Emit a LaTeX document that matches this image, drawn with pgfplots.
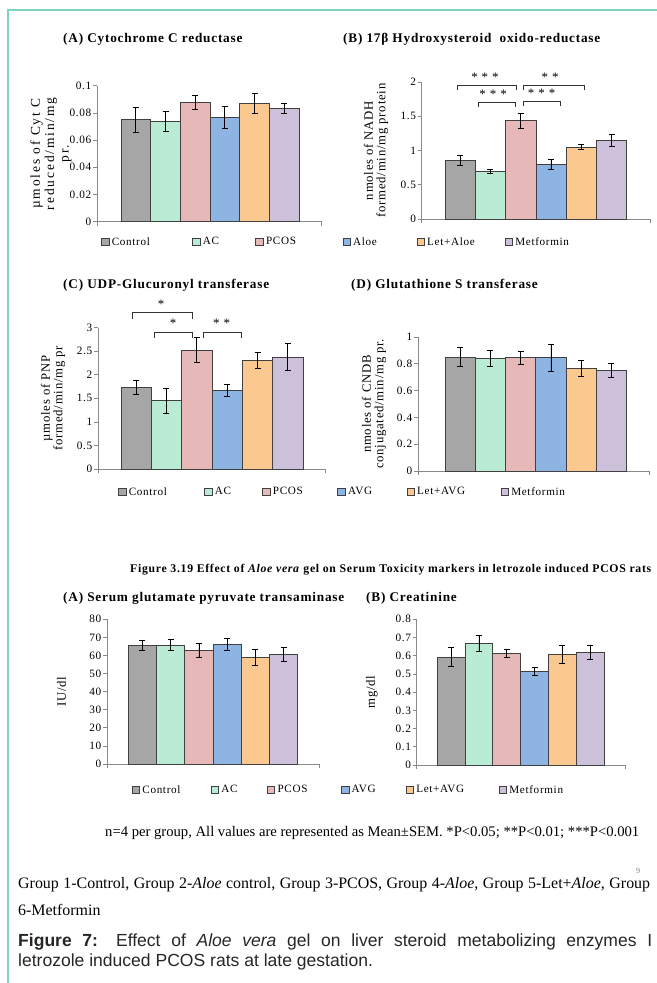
\documentclass[border=0pt]{standalone}
\usepackage{fontspec}
\setmainfont{Liberation Serif}
\newfontfamily\cf[LetterSpace=6]{Liberation Serif}
\newfontfamily\cfw[LetterSpace=14]{Liberation Serif}
\newfontfamily\capf{Liberation Sans}
\usepackage{pgfplots}
\pgfplotsset{compat=1.18}
\usepackage{graphicx}
\definecolor{cCtrl}{HTML}{A6A6A6}
\definecolor{cAC}{HTML}{B9EBD5}
\definecolor{cPCOS}{HTML}{E6B9B8}
\definecolor{cAloe}{HTML}{8DB4E2}
\definecolor{cLet}{HTML}{FBC88F}
\definecolor{cMet}{HTML}{CCC0DA}
\definecolor{axgray}{HTML}{898989}
\definecolor{frame}{HTML}{7FD3C3}
\newcommand{\B}[4]{\addplot[mybar, fill=#1] coordinates {(#2,#3) +- (0,#4)};}
\pgfplotsset{
  panel/.style={scale only axis, anchor=south west,
    axis x line=bottom, axis y line=left,
    axis line style={-,draw=axgray,line width=0.7bp},
    tick style={draw=axgray,line width=0.7bp},
    tick align=outside, major tick length=4bp,
    xticklabels={}, ymin=0, clip=false,
    /pgf/number format/assume math mode=true,
    yticklabel style={font=\cf\fontsize{11.3}{12}\selectfont, inner sep=1.5bp},
    ylabel style={font=\cf\fontsize{12.8}{12.5}\selectfont, align=center, anchor=center}},
  mybar/.style={ybar, bar width=1, bar shift=0pt, draw=black!75, line width=0.7bp,
    legend image code/.code={\draw[##1,draw=black!75,line width=0.6bp] (0bp,-3.7bp) rectangle (7.5bp,3.7bp);},
    error bars/y dir=both, error bars/y explicit,
    error bars/error bar style={black, line width=0.75bp},
    error bars/error mark options={rotate=90, mark size=3bp, black, line width=0.75bp}},
  legrow/.style={legend columns=6, legend cell align=left,
    legend style={draw=none, fill=none, inner sep=0pt, anchor=west,
      font=\cf\fontsize{11.2}{12}\selectfont, nodes={inner sep=0pt},
      /tikz/every even column/.append style={column sep=0pt}}},
}
\tikzset{sig/.style={black!80, line width=0.6bp}, star/.style={font=\cf\fontsize{13}{13}\selectfont, anchor=base, inner sep=0pt},
  ttl/.style={anchor=west, inner sep=0pt, font=\cf\bfseries\fontsize{13.3}{15}\selectfont}}
\begin{document}
\begin{tikzpicture}
\path[use as bounding box] (0,0) rectangle (657bp,983bp);
\draw[frame, line width=1.5bp] (8bp,0bp) -- (8bp,973bp) -- (657bp,973bp);

% titles
\node[ttl] at (63bp,944bp) {(A) Cytochrome C reductase};
\node[ttl] at (343bp,944bp) {(B) 17β Hydroxysteroid\ \ oxido-reductase};
\node[ttl] at (63bp,698bp) {(C) UDP-Glucuronyl transferase};
\node[ttl] at (351bp,698bp) {(D) Glutathione S transferase};
\node[ttl, font=\cf\bfseries\fontsize{11.8}{13}\selectfont] at (130bp,413bp) {Figure 3.19 Effect of \textit{Aloe vera} gel on Serum Toxicity markers in letrozole induced PCOS rats};
\node[ttl] at (63bp,385bp) {(A) Serum glutamate pyruvate transaminase};
\node[ttl] at (366bp,385bp) {(B) Creatinine};

% Panel A
\begin{axis}[panel, at={(97bp,761.3bp)}, width=224.7bp, height=136bp,
  xmin=-1.309, xmax=6.265, xtick={-1.309,6.265},
  ymax=0.1, ytick={0,0.02,0.04,0.06,0.08,0.1}, yticklabels={0,0.02,0.04,0.06,0.08,0.1},
  ylabel={µmoles of Cyt C\\reduced/min/mg\\pr.},
  ylabel style={at={(axis description cs:-0.205,0.5)}, font=\cfw\fontsize{13.5}{14.5}\selectfont},
  legrow, legend style={at={(axis description cs:0.018,-0.149)}}]
\B{cCtrl}{0}{0.075}{0.009}
\B{cAC}{1}{0.0735}{0.0074}
\B{cPCOS}{2}{0.0877}{0.005}
\B{cAloe}{3}{0.0767}{0.0082}
\B{cLet}{4}{0.087}{0.0076}
\B{cMet}{5}{0.0831}{0.0038}
\legend{{\makebox[83bp][l]{\hspace{2.5bp}Control}},{\makebox[55bp][l]{\hspace{2.5bp}AC}},{\makebox[79bp][l]{\hspace{2.5bp}PCOS}},{\makebox[66bp][l]{\hspace{2.5bp}Aloe}},{\makebox[80bp][l]{\hspace{2.5bp}Let+Aloe}},{\hspace{2.5bp}Metformin}}
\end{axis}

% Panel B
\begin{axis}[panel, at={(421.7bp,764bp)}, width=228.3bp, height=137bp,
  xmin=-1.27, xmax=6.27, xtick={-1.27,6.27},
  ymax=2, ytick={0,0.5,1,1.5,2}, yticklabels={0,0.5,1,1.5,2},
  ylabel={nmoles of NADH\\formed/min/mg protein},
  ylabel style={at={(axis description cs:-0.2,0.5)}}]
\B{cCtrl}{0}{0.856}{0.068}
\B{cAC}{1}{0.691}{0.03}
\B{cPCOS}{2}{1.435}{0.107}
\B{cAloe}{3}{0.798}{0.07}
\B{cLet}{4}{1.051}{0.04}
\B{cMet}{5}{1.144}{0.09}
\draw[sig] (axis cs:-0.1,1.883) -- (axis cs:-0.1,1.956) -- (axis cs:1.87,1.956) -- (axis cs:1.87,1.883);
\draw[sig] (axis cs:0.6,1.63) -- (axis cs:0.6,1.703) -- (axis cs:1.83,1.703) -- (axis cs:1.83,1.63);
\draw[sig] (axis cs:2.1,1.883) -- (axis cs:2.1,1.956) -- (axis cs:4.09,1.956) -- (axis cs:4.09,1.883);
\draw[sig] (axis cs:2.1,1.647) -- (axis cs:2.1,1.72) -- (axis cs:3.32,1.72) -- (axis cs:3.32,1.647);
\node[star] at (axis cs:0.82,1.956) [yshift=4bp] {* * *};
\node[star] at (axis cs:1.09,1.703) [yshift=4bp] {* * *};
\node[star] at (axis cs:2.97,1.956) [yshift=4bp] {* *};
\node[star] at (axis cs:2.69,1.72) [yshift=4bp] {* * *};
\end{axis}

% Panel C
\begin{axis}[panel, at={(98bp,514bp)}, width=227bp, height=141.3bp,
  xmin=-1.258, xmax=6.225, xtick={-1.258,6.225},
  ymax=3, ytick={0,0.5,1,1.5,2,2.5,3}, yticklabels={0,0.5,1,1.5,2,2.5,3},
  ylabel={µmoles of PNP\\formed/min/mg pr},
  ylabel style={at={(axis description cs:-0.198,0.5)}},
  legrow, legend style={at={(axis description cs:0.088,-0.163)}}]
\B{cCtrl}{0}{1.727}{0.15}
\B{cAC}{1}{1.451}{0.265}
\B{cPCOS}{2}{2.519}{0.265}
\B{cAloe}{3}{1.663}{0.13}
\B{cLet}{4}{2.3}{0.17}
\B{cMet}{5}{2.378}{0.28}
\draw[sig] (axis cs:-0.114,3.19) -- (axis cs:-0.114,3.32) -- (axis cs:1.85,3.32) -- (axis cs:1.85,3.19);
\draw[sig] (axis cs:0.6,2.79) -- (axis cs:0.6,2.91) -- (axis cs:1.85,2.91) -- (axis cs:1.85,2.79);
\draw[sig] (axis cs:2.21,2.79) -- (axis cs:2.21,2.91) -- (axis cs:3.48,2.91) -- (axis cs:3.48,2.79);
\node[star] at (axis cs:0.82,3.32) [yshift=4bp] {*};
\node[star] at (axis cs:1.22,2.91) [yshift=4bp] {*};
\node[star] at (axis cs:2.82,2.91) [yshift=4bp] {* *};
\legend{{\makebox[78bp][l]{\hspace{2.5bp}Control}},{\makebox[50bp][l]{\hspace{2.5bp}AC}},{\makebox[67bp][l]{\hspace{2.5bp}PCOS}},{\makebox[61bp][l]{\hspace{2.5bp}AVG}},{\makebox[86bp][l]{\hspace{2.5bp}Let+AVG}},{\hspace{2.5bp}Metformin}}
\end{axis}

% Panel D
\begin{axis}[panel, at={(418bp,512bp)}, width=231bp, height=134bp,
  xmin=-1.39, xmax=6.24, xtick={-1.39,6.24},
  ymax=1, ytick={0,0.2,0.4,0.6,0.8,1}, yticklabels={0,0.2,0.4,0.6,0.8,1},
  ylabel={nmoles of CNDB\\conjugated/min/mg pr.},
  ylabel style={at={(axis description cs:-0.19,0.5)}}]
\B{cCtrl}{0}{0.851}{0.07}
\B{cAC}{1}{0.841}{0.06}
\B{cPCOS}{2}{0.846}{0.048}
\B{cAloe}{3}{0.846}{0.1}
\B{cLet}{4}{0.769}{0.06}
\B{cMet}{5}{0.751}{0.05}
\end{axis}

% Panel E
\begin{axis}[panel, at={(107bp,219bp)}, width=212bp, height=144.7bp,
  xmin=-1.255, xmax=6.255, xtick={-1.255,6.255},
  ymax=80, ytick={0,10,20,30,40,50,60,70,80}, yticklabels={0,10,20,30,40,50,60,70,80},
  ylabel={IU/dl},
  ylabel style={at={(axis description cs:-0.214,0.5)}},
  legrow, legend style={at={(axis description cs:0.116,-0.18)}}]
\B{cCtrl}{0}{65.8}{2.8}
\B{cAC}{1}{65.8}{3.0}
\B{cPCOS}{2}{63}{3.8}
\B{cAloe}{3}{66.2}{3.5}
\B{cLet}{4}{59}{4.2}
\B{cMet}{5}{60.6}{3.9}
\legend{{\makebox[70.8bp][l]{\hspace{2.5bp}Control}},{\makebox[48.2bp][l]{\hspace{2.5bp}AC}},{\makebox[66bp][l]{\hspace{2.5bp}PCOS}},{\makebox[56.5bp][l]{\hspace{2.5bp}AVG}},{\makebox[85bp][l]{\hspace{2.5bp}Let+AVG}},{\hspace{2.5bp}Metformin}}
\end{axis}

% Panel F
\begin{axis}[panel, at={(416.7bp,218bp)}, width=208.3bp, height=145.7bp,
  xmin=-1.24, xmax=6.256, xtick={-1.24,6.256},
  ymax=0.8, ytick={0,0.1,0.2,0.3,0.4,0.5,0.6,0.7,0.8}, yticklabels={0,0.1,0.2,0.3,0.4,0.5,0.6,0.7,0.8},
  ylabel={mg/dl},
  ylabel style={at={(axis description cs:-0.216,0.5)}}]
\B{cCtrl}{0}{0.592}{0.053}
\B{cAC}{1}{0.668}{0.044}
\B{cPCOS}{2}{0.612}{0.021}
\B{cAloe}{3}{0.515}{0.021}
\B{cLet}{4}{0.606}{0.05}
\B{cMet}{5}{0.619}{0.04}
\end{axis}

% footer
\node[anchor=west, inner sep=0pt, font=\fontsize{14.7}{16}\selectfont] at (105bp,150bp) {n=4 per group, All values are represented as Mean±SEM. *P<0.05; **P<0.01; ***P<0.001};
\node[anchor=west, inner sep=0pt, font=\fontsize{8}{8}\selectfont, text=gray] at (636bp,112bp) {9};
\node[anchor=west, inner sep=0pt, font=\fontsize{16}{18}\selectfont] at (18bp,98bp) {\makebox[632bp][s]{Group 1-Control, Group 2-\textit{Aloe} control, Group 3-PCOS, Group 4-\textit{Aloe}, Group 5-Let+\textit{Aloe}, Group}};
\node[anchor=west, inner sep=0pt, font=\fontsize{16}{18}\selectfont] at (18bp,73bp) {6-Metformin};
\node[anchor=west, inner sep=0pt, font=\capf\fontsize{17.6}{20}\selectfont, text=black!85] at (18bp,41bp) {\makebox[634bp][s]{\textbf{Figure 7:} Effect of \textit{Aloe vera} gel on liver steroid metabolizing enzymes I}};
\node[anchor=west, inner sep=0pt, font=\capf\fontsize{17.6}{20}\selectfont, text=black!85] at (18bp,21bp) {letrozole induced PCOS rats at late gestation.};
\end{tikzpicture}
\end{document}
